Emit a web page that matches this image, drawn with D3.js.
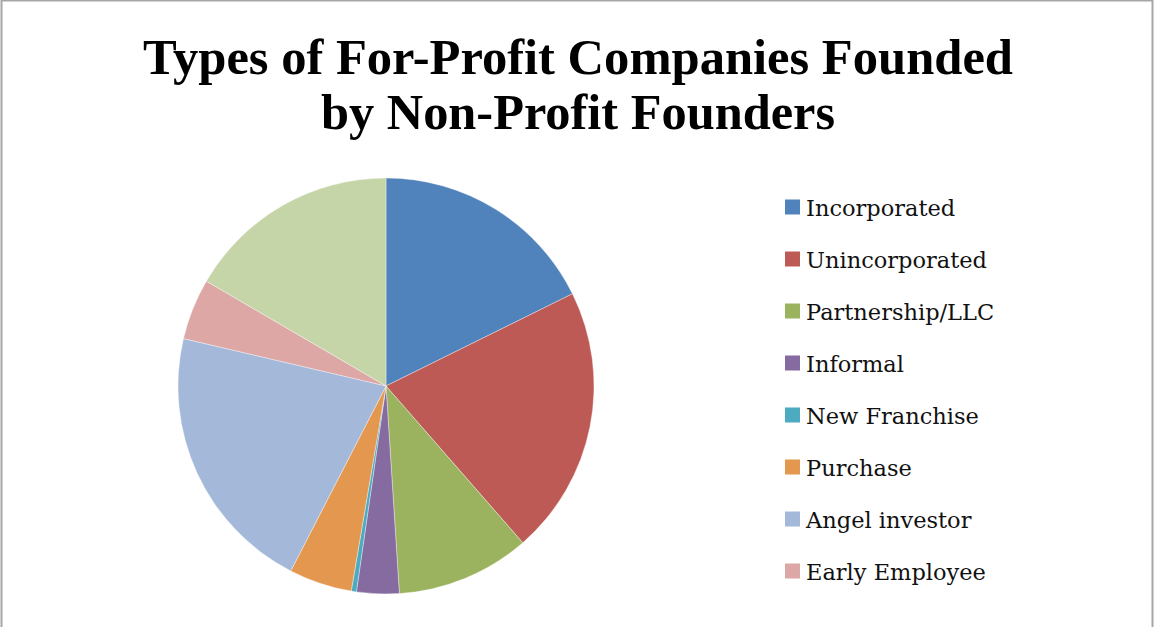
<!DOCTYPE html>
<html lang="en">
<head>
<meta charset="UTF-8">
<title>Types of For-Profit Companies Founded by Non-Profit Founders</title>
<script src="https://d3js.org/d3.v7.min.js"></script>
<style>
  body { margin: 0; background: #fff; }
  svg { display: block; }
</style>
</head>
<body>
<div id="chart"></div>
<script>
// data (percent of founders)
const categories = ["Incorporated", "Unincorporated", "Partnership/LLC", "Informal",
                    "New Franchise", "Purchase", "Angel investor", "Early Employee", "Other"];
const values = [17.7, 20.9, 10.4, 3.3, 0.4, 4.9, 21.1, 4.75, 16.6];
const colors = ["#5083BC", "#BE5A55", "#9BB35E", "#866BA0", "#4CAAC1",
                "#E4984F", "#A4B8DA", "#DCA7A5", "#C6D5A8"];
const titleLines = ["Types of For-Profit Companies Founded", "by Non-Profit Founders"];
// Excel cut the legend off after eight entries
const legendCount = 8;

const width = 1154, height = 627;
const cx = 386, cy = 386, radius = 208;

const svg = d3.select("#chart").append("svg")
    .attr("width", width)
    .attr("height", height);

// chart frame (bottom edge is cropped away)
svg.append("path")
    .attr("d", "M1.5," + height + "V0.5H1152.5V" + height)
    .attr("fill", "none")
    .attr("stroke", "#a6a6a6")
    .attr("stroke-width", 2);

// title
svg.selectAll("text.title")
    .data(titleLines)
    .enter()
    .append("text")
    .attr("class", "title")
    .attr("x", 578)
    .attr("y", (d, i) => 74 + i * 55)
    .attr("text-anchor", "middle")
    .style("font-family", "'Liberation Serif', 'DejaVu Serif', serif")
    .style("font-weight", "bold")
    .style("font-size", "50px")
    .attr("textLength", (d, i) => i == 0 ? 870 : 514)
    .attr("lengthAdjust", "spacingAndGlyphs")
    .text(d => d);

const color = d3.scaleOrdinal().domain(categories).range(colors);

const pie = d3.pie().sort(null).value(d => d.value);
const arc = d3.arc().innerRadius(0).outerRadius(radius);

const slices = categories.map((c, i) => ({ name: c, value: values[i] }));

svg.append("g")
    .attr("transform", "translate(" + cx + "," + cy + ")")
    .selectAll("path")
    .data(pie(slices))
    .enter()
    .append("path")
    .attr("d", arc)
    .style("fill", d => color(d.data.name))
    .style("stroke", "#fff")
    .style("stroke-width", 0.6)
    .style("stroke-opacity", 0.6);

// legend
const legendY = d3.scalePoint()
    .domain(categories.slice(0, legendCount))
    .range([207, 571]);

const item = svg.append("g")
    .selectAll("g")
    .data(categories.slice(0, legendCount))
    .enter()
    .append("g")
    .attr("transform", d => "translate(785," + legendY(d) + ")");

item.append("rect")
    .attr("x", 0)
    .attr("y", -7.5)
    .attr("width", 15)
    .attr("height", 15)
    .style("fill", d => color(d));

item.append("text")
    .attr("x", 21)
    .attr("y", 8.5)
    .style("font-family", "'DejaVu Serif', 'Liberation Serif', serif")
    .style("font-size", "22.5px")
    .style("fill", "#111")
    .text(d => d);
</script>
</body>
</html>
